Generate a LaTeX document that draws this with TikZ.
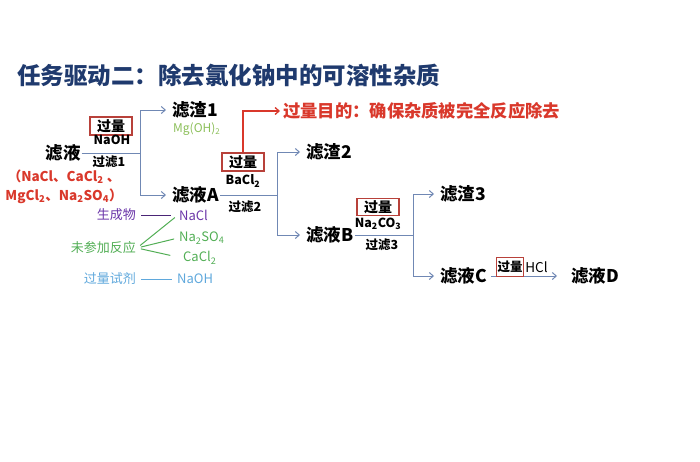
\documentclass[tikz,border=0pt]{standalone}
\usepackage{fontspec}
\setmainfont{Noto Sans CJK SC}
\usepackage{xcolor}
\usepackage{tikz}
\usetikzlibrary{arrows.meta,positioning,calc}
\definecolor{tnavy}{HTML}{1F3A6E}
\definecolor{fblue}{HTML}{7088B4}
\definecolor{rred}{HTML}{D9382B}
\definecolor{bred}{HTML}{B8413A}
\definecolor{lpurple}{HTML}{6A35A8}
\definecolor{lgreen}{HTML}{52AE55}
\definecolor{lolive}{HTML}{8CBF5A}
\definecolor{lsky}{HTML}{5FA8DC}

\tikzset{
  stage/.style={font=\fontsize{17.5}{19}\selectfont\bfseries,inner sep=1pt,anchor=west},
  cond/.style={font=\fontsize{12.5}{14}\selectfont\bfseries,inner sep=1pt},
  excess/.style={draw=bred,line width=1.3pt,font=\fontsize{14}{16}\selectfont\bfseries,
                 inner sep=1pt,minimum width=42pt,minimum height=18pt},
  legend/.style={font=\fontsize{13}{15}\selectfont,inner sep=1pt},
  pipe/.style={draw=fblue,line width=1pt},
  flow/.style={pipe,-{Straight Barb[length=4pt,width=7pt]},shorten >=5pt},
  callout/.style={draw=rred,line width=1.3pt,-{Straight Barb[length=4pt,width=7pt]},shorten >=3pt},
}

\begin{document}
\begin{tikzpicture}[x=1pt,y=-1pt]
\useasboundingbox (0,0) rectangle (700,461);

\node[anchor=west,text=tnavy,font=\fontsize{23.5}{27}\selectfont\bfseries,inner sep=0pt]
  (title) at (17,75) {任务驱动二：除去氯化钠中的可溶性杂质};

% filtration chain
\node[stage,anchor=center] (feed) at (63,153) {滤液};
\node[stage] (res1) at (171,110) {滤渣1};
\node[stage] (filA) at (171,195) {滤液A};
\node[stage] (res2) at (305,152) {滤渣2};
\node[stage] (filB) at (305,235) {滤液B};
\node[stage] (res3) at (439,194) {滤渣3};
\node[stage] (filC) at (439,276) {滤液C};
\node[stage] (filD) at (570,276) {滤液D};

\node[anchor=west,inner sep=1pt,text=lolive,font=\fontsize{12}{14}\selectfont]
  (mgoh) at (172,129) {Mg(OH)\textsubscript{2}};
\node[align=center,text=rred,font=\fontsize{13.5}{19}\selectfont\bfseries,inner sep=0pt]
  (mix) at (64,187) {（NaCl、CaCl\textsubscript{2} 、\\MgCl\textsubscript{2}、Na\textsubscript{2}SO\textsubscript{4}）};

\coordinate (b1) at (140,153);
\coordinate (b2) at (277,195);
\coordinate (b3) at (413,235);

\draw[pipe] (feed.east) -- (b1);
\draw[flow] (b1) |- (res1.west);
\draw[flow] (b1) |- (filA.west);
\draw[pipe] (filA.east) -- (b2);
\draw[flow] (b2) |- (res2.west);
\draw[flow] (b2) |- (filB.west);
\draw[pipe] (filB.east) -- (b3);
\draw[flow] (b3) |- (res3.west);
\draw[flow] (b3) |- (filC.west);
\draw[flow,shorten <=3pt,shorten >=13pt] (filC.east) -- (filD.west);

% reagents
\node[excess] (x1) at (111,126) {过量};
\node[cond] (naoh) at (112,140) {NaOH};
\node[cond] (f1) at (109,162) {过滤1};
\node[excess] (x2) at (243,162) {过量};
\node[cond] (bacl) at (243,181) {BaCl\textsubscript{2}};
\node[cond] (f2) at (245,207) {过滤2};
\node[excess,minimum height=17pt] (x3) at (378,207) {过量};
\node[cond] (naco) at (378,224) {Na\textsubscript{2}CO\textsubscript{3}};
\node[cond] (f3) at (382,245) {过滤3};
\node[excess,minimum width=27pt,minimum height=19pt,font=\fontsize{12.5}{14}\selectfont\bfseries]
  (x4) at (510,267) {过量};
\node[cond,anchor=west,font=\fontsize{13.5}{15}\selectfont] (hcl) at (x4.east) {HCl};

\node[anchor=west,text=rred,font=\fontsize{17.3}{19}\selectfont\bfseries,inner sep=0pt]
  (aim) at (283,111) {过量目的：确保杂质被完全反应除去};
\draw[callout] (x2.north) |- (aim.west);

% legend
\node[legend,anchor=east,text=lpurple] (prod) at (137,215) {生成物};
\node[legend,anchor=west,text=lpurple] (nacl) at (178,215) {NaCl};
\node[legend,anchor=east,text=lgreen] (unre) at (137,248) {未参加反应};
\node[legend,anchor=west,text=lgreen] (naso) at (178,238) {Na\textsubscript{2}SO\textsubscript{4}};
\node[legend,anchor=west,text=lgreen] (cacl) at (182,258) {CaCl\textsubscript{2}};
\node[legend,anchor=east,text=lsky] (xreag) at (137,279) {过量试剂};
\node[legend,anchor=west,text=lsky] (naohl) at (176,279) {NaOH};

\draw[draw=lpurple!70!black,line width=1pt,shorten <=4pt,shorten >=7pt] (prod.east) -- (nacl.west);
\draw[draw=lgreen,line width=1pt,shorten <=4pt,shorten >=4pt] (unre.east) -- (nacl.west);
\draw[draw=lgreen,line width=1pt,shorten <=4pt,shorten >=4pt] (unre.east) -- (naso.west);
\draw[draw=lgreen,line width=1pt,shorten <=4pt,shorten >=12pt] (unre.east) -- (cacl.west);
\draw[draw=lsky,line width=1pt,shorten <=4pt,shorten >=4pt] (xreag.east) -- (naohl.west);
\end{tikzpicture}
\end{document}
